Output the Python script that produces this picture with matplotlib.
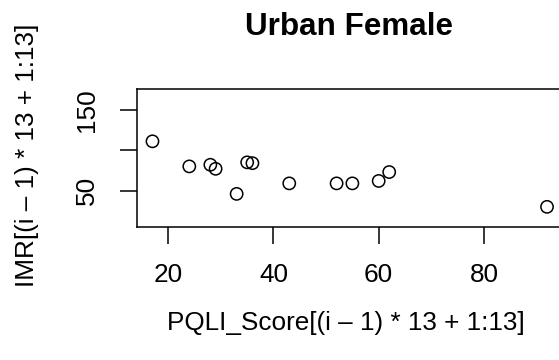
import matplotlib
matplotlib.use('Agg')
import matplotlib.pyplot as plt

# urban female subset: PQLI score vs infant mortality rate
pqli_score = [17, 24, 28, 29, 33, 35, 36, 43, 52, 55, 60, 62, 92]
imr = [111, 80, 82, 77, 46, 85, 84, 59, 59, 59, 62, 73, 30]

x_ticks = [20, 40, 60, 80]
y_ticks = [50, 100, 150]
y_tick_labels = ['50', '', '150']

title = 'Urban Female'
x_label = 'PQLI_Score[(i \u2013 1) * 13 + 1:13]'
y_label = 'IMR[(i \u2013 1) * 13 + 1:13]'

plt.rcParams['font.family'] = ['Liberation Sans', 'DejaVu Sans']

W, H = 559, 360
fig = plt.figure(figsize=(W / 100, H / 100), dpi=100)

# plot region in pixels; right side runs a little past the figure edge
left, right, top, bottom = 136.7, 562.8, 89.3, 227.3
ax = fig.add_axes([left / W, 1 - bottom / H, (right - left) / W, (bottom - top) / H])

ax.scatter(pqli_score, imr, s=78, facecolors='none', edgecolors='black',
           linewidths=1.1, clip_on=False, zorder=3)

# R style padding: 4% of the range on both sides
xmin, xmax = min(pqli_score), max(pqli_score)
dx = (xmax - xmin) * 0.04
ax.set_xlim(xmin - dx, xmax + dx)
ax.set_ylim(4.7, 175.3)

ax.set_xticks(x_ticks)
ax.set_yticks(y_ticks)
ax.set_yticklabels(y_tick_labels, rotation=90, va='center')

for sp in ax.spines.values():
    sp.set_linewidth(1.1)
ax.tick_params(axis='both', direction='out', length=12, width=1.1,
               labelsize=18.8, colors='black')
ax.tick_params(axis='x', pad=14)
ax.tick_params(axis='y', pad=15)

fig.text(349 / W, 1 - 35 / H, title, ha='center', va='baseline',
         fontsize=22.6, fontweight='bold')
fig.text(346 / W, 1 - 330 / H, x_label, ha='center', va='baseline', fontsize=18.8)
fig.text(27 / W, 1 - 155 / H, y_label, ha='center', va='center',
         rotation=90, fontsize=18.8)

fig.savefig('out.png', dpi=100)
